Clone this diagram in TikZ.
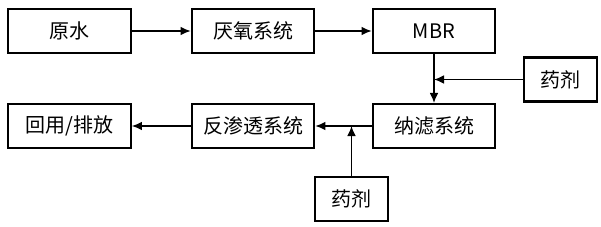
\documentclass[tikz,border=0pt]{standalone}
\usepackage{fontspec}
\setmainfont{Noto Sans CJK SC}
\usepackage{tikz}
\usetikzlibrary{arrows.meta, positioning, calc}

\begin{document}
\begin{tikzpicture}[
  x=0.75pt, y=-0.75pt,
  every node/.style={font=\fontsize{15}{18}\selectfont},
  unit/.style={rectangle, draw=black, line width=1.6pt, fill=white,
               minimum width=92pt, minimum height=33pt, inner sep=0pt,
               align=center},
  dose/.style={unit, minimum width=55pt},
  arr/.style={-{Latex[length=7.5pt,width=6.5pt]}, line width=1pt},
]
\useasboundingbox (0,0) rectangle (601,226);

\node[unit] (raw)    at (69.5,31)  {原水};
\node[unit] (anaer)  at (253,31)   {厌氧系统};
\node[unit] (mbr)    at (434,31)   {MBR};
\node[dose] (doseA)  at (560.5,79.5) {药剂};
\node[unit] (nf)     at (434,126)  {纳滤系统};
\node[unit] (ro)     at (253,126)  {反渗透系统};
\node[unit] (reuse)  at (69.5,126) {回用/排放};
\node[dose] (doseB)  at (351.5,199){药剂};

\coordinate (joinA) at (mbr.south |- doseA);
\coordinate (joinB) at (doseB.north |- nf);

\draw[arr] (raw)   -- (anaer);
\draw[arr] (anaer) -- (mbr);
\draw[arr] (mbr)   -- (nf);
\draw[arr] (doseA) -- (joinA);
\draw[arr] (nf)    -- (ro);
\draw[arr] (ro)    -- (reuse);
\draw[arr] (doseB) -- (joinB);

\end{tikzpicture}
\end{document}
